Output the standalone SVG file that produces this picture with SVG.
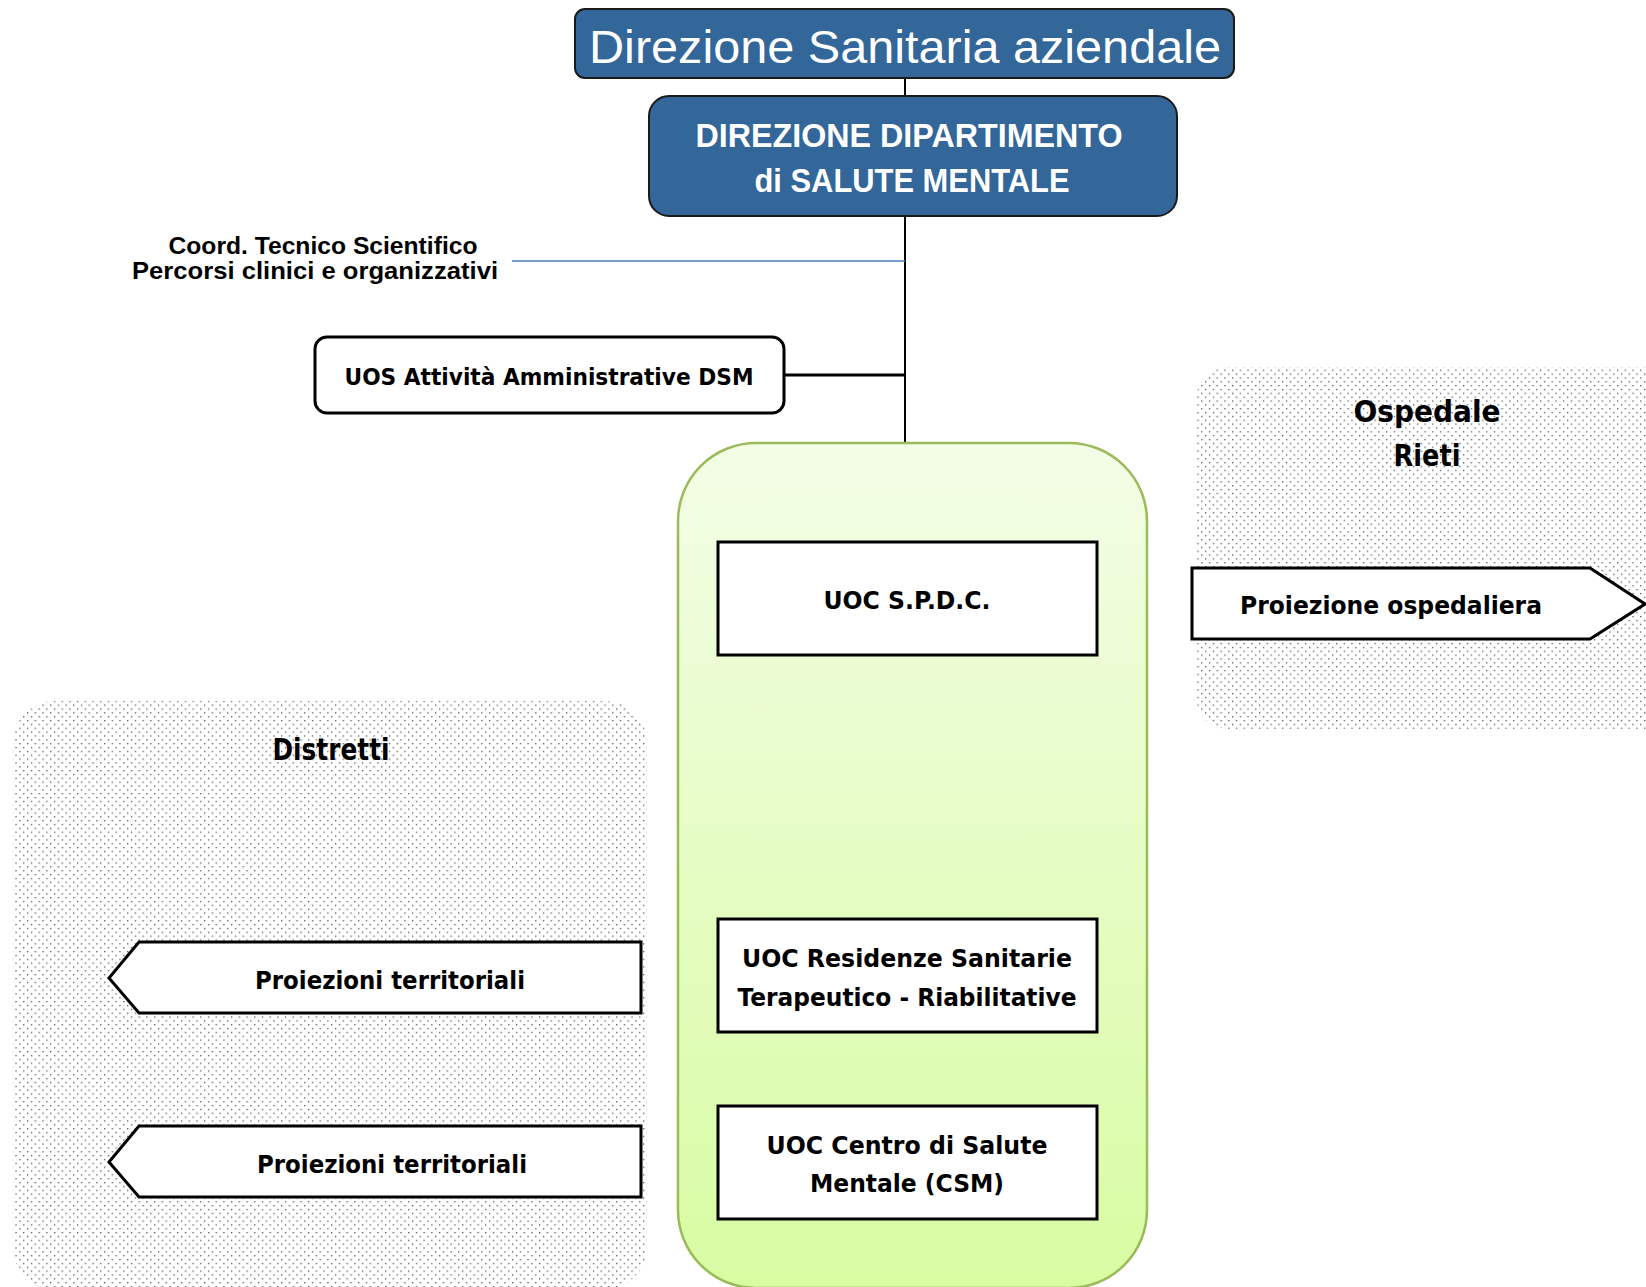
<svg xmlns="http://www.w3.org/2000/svg" width="1646" height="1287" viewBox="0 0 1646 1287">
<defs>
<pattern id="dots" x="0" y="0" width="7.7" height="7.7" patternUnits="userSpaceOnUse">
<rect x="0" y="0" width="1.3" height="1.3" fill="#555"/>
<rect x="3.85" y="3.85" width="1.3" height="1.3" fill="#555"/>
</pattern>
<linearGradient id="green" x1="0" y1="0" x2="0" y2="1">
<stop offset="0" stop-color="#f3fde6"/>
<stop offset="1" stop-color="#d8fca2"/>
</linearGradient>
<style>
.blue{fill:#336699;stroke:#1a1a1a;stroke-width:2}
.box{fill:#fff;stroke:#000;stroke-width:3}
.zone{fill:url(#dots);stroke:none}
.t{font-family:"DejaVu Sans","Liberation Sans",sans-serif;font-weight:bold;fill:#000;text-anchor:middle}
.c{font-family:"Liberation Sans Narrow","Liberation Sans",sans-serif;font-weight:bold;text-anchor:middle}
.line{stroke:#000;fill:none}
</style>
</defs>
<rect width="1646" height="1287" fill="#fff"/>

<g id="zone-ospedale">
<rect class="zone" x="1196" y="367" width="500" height="362" rx="32"/>
<text class="t" x="1427" y="422" font-size="30" textLength="147" lengthAdjust="spacingAndGlyphs">Ospedale</text>
<text class="t" x="1427" y="466" font-size="30" textLength="67" lengthAdjust="spacingAndGlyphs">Rieti</text>
</g>
<g id="zone-distretti">
<rect class="zone" x="13" y="701" width="634" height="588" rx="42"/>
<text class="t" x="331" y="760" font-size="30" textLength="117" lengthAdjust="spacingAndGlyphs">Distretti</text>
</g>

<g id="connectors">
<line class="line" x1="905" y1="78" x2="905" y2="96" stroke-width="2"/>
<line class="line" x1="905" y1="216" x2="905" y2="443" stroke-width="2"/>
<line x1="512" y1="261" x2="905" y2="261" stroke="#4a7ebb" stroke-width="1.6"/>
<line class="line" x1="784" y1="375" x2="905" y2="375" stroke-width="3"/>
</g>

<g id="direzione-sanitaria">
<rect class="blue" x="575" y="9" width="659" height="69" rx="10"/>
<text x="905" y="63" font-family="'Liberation Sans',sans-serif" font-size="46" fill="#fff" text-anchor="middle" textLength="632" lengthAdjust="spacingAndGlyphs">Direzione Sanitaria aziendale</text>
</g>

<g id="direzione-dsm">
<rect class="blue" x="649" y="96" width="528" height="120" rx="20"/>
<text class="c" x="909" y="147" font-size="34" fill="#fff" textLength="427" lengthAdjust="spacingAndGlyphs">DIREZIONE DIPARTIMENTO</text>
<text class="c" x="912" y="192" font-size="34" fill="#fff" textLength="315" lengthAdjust="spacingAndGlyphs">di SALUTE MENTALE</text>
</g>

<g id="coord">
<text class="c" x="323" y="254" font-size="24" fill="#000" textLength="309" lengthAdjust="spacingAndGlyphs">Coord. Tecnico Scientifico</text>
<text class="c" x="315" y="279" font-size="24" fill="#000" textLength="366" lengthAdjust="spacingAndGlyphs">Percorsi clinici e organizzativi</text>
</g>

<g id="uos">
<rect class="box" x="315" y="337" width="469" height="76" rx="12" stroke-width="2.5"/>
<text class="t" x="549" y="385" font-size="23" textLength="409" lengthAdjust="spacingAndGlyphs">UOS Attività Amministrative DSM</text>
</g>

<g id="dsm-container">
<rect x="678" y="443" width="469" height="845" rx="78" fill="url(#green)" stroke="#9bbb59" stroke-width="2.5"/>
</g>

<g id="spdc">
<rect class="box" x="718" y="542" width="379" height="113"/>
<text class="t" x="907" y="609" font-size="25" textLength="167" lengthAdjust="spacingAndGlyphs">UOC S.P.D.C.</text>
</g>

<g id="residenze">
<rect class="box" x="718" y="919" width="379" height="113"/>
<text class="t" x="907" y="967" font-size="25" textLength="330" lengthAdjust="spacingAndGlyphs">UOC Residenze Sanitarie</text>
<text class="t" x="907" y="1006" font-size="25" textLength="339" lengthAdjust="spacingAndGlyphs">Terapeutico - Riabilitative</text>
</g>

<g id="csm">
<rect class="box" x="718" y="1106" width="379" height="113"/>
<text class="t" x="907" y="1154" font-size="25" textLength="281" lengthAdjust="spacingAndGlyphs">UOC Centro di Salute</text>
<text class="t" x="907" y="1192" font-size="25" textLength="194" lengthAdjust="spacingAndGlyphs">Mentale (CSM)</text>
</g>

<g id="proiezione-ospedaliera">
<polygon class="box" points="1192,568 1590,568 1645,604 1590,639 1192,639"/>
<text class="t" x="1391" y="614" font-size="24" textLength="302" lengthAdjust="spacingAndGlyphs">Proiezione ospedaliera</text>
</g>

<g id="proiezioni-territoriali-1">
<polygon class="box" points="641,942 139,942 109,978 139,1013 641,1013"/>
<text class="t" x="390" y="989" font-size="25" textLength="270" lengthAdjust="spacingAndGlyphs">Proiezioni territoriali</text>
</g>

<g id="proiezioni-territoriali-2">
<polygon class="box" points="641,1126 139,1126 109,1162 139,1197 641,1197"/>
<text class="t" x="392" y="1173" font-size="25" textLength="270" lengthAdjust="spacingAndGlyphs">Proiezioni territoriali</text>
</g>
</svg>
